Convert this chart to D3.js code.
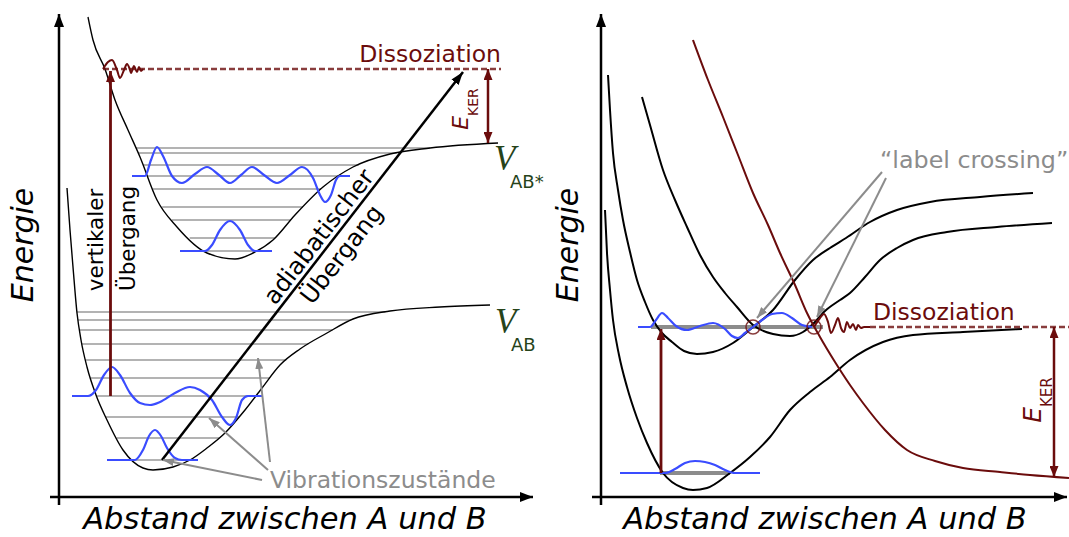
<!DOCTYPE html>
<html>
<head>
<meta charset="utf-8">
<script src="https://cdn.jsdelivr.net/npm/d3@7"></script>
<style>
  html, body { margin: 0; padding: 0; background: #fff; }
  svg { display: block; }
</style>
</head>
<body>
<script>
// ---------------------------------------------------------------
// Data — arbitrary units: distance (x) and energy (y)
// ---------------------------------------------------------------

// Left panel: excited-state and ground-state potentials
const vABstar = [[2.9,48.0],[3.4,45.7],[4.6,42.8],[5.6,39.7],[6.9,36.7],[8.1,34.0],[9.8,29.7],[11.8,27.0],[14.8,24.4],[17.6,23.8],[19.4,24.4],[21.4,25.7],[23.6,28.2],[26.4,31.0],[29.4,33.0],[33.1,34.3],[37.1,34.9],[43.9,35.4]];
const vAB = [[0.8,30.9],[1.1,26.7],[1.4,23.0],[1.8,18.4],[2.2,15.7],[2.8,13.0],[3.7,10.2],[4.8,7.7],[6.4,4.7],[8.4,2.9],[9.4,2.7],[11.4,3.0],[13.1,3.7],[14.8,4.9],[16.6,6.4],[18.6,8.7],[20.3,10.9],[22.1,13.2],[24.1,14.8],[26.8,16.4],[29.4,17.8],[33.1,18.6],[38.1,19.0],[43.1,19.2]];

// Vibrational level energies inside each well
const levelsAB = [3.7, 5.9, 8.0, 10.1, 11.9, 13.7, 15.3, 16.7, 17.7, 18.5];
const levelsABstar = [24.6, 25.9, 27.7, 29.0, 30.8, 32.1, 33.2, 34.4, 34.9];

// Wave functions (left panel)
const waveAB0 = [[4.8,3.7],[7.6,3.7],[8.4,4.7],[9.0,6.1],[9.6,6.7],[10.2,6.1],[10.8,4.9],[11.6,3.9],[12.3,3.7],[13.9,3.7]];
const waveAB3 = [[1.3,10.1],[2.9,10.1],[3.7,10.7],[4.5,12.2],[5.3,13.0],[6.1,12.2],[7.1,10.4],[8.1,9.4],[9.1,9.2],[10.1,9.5],[11.6,10.4],[13.1,11.0],[14.1,10.7],[15.3,9.7],[16.3,8.0],[17.1,7.2],[17.7,7.9],[18.3,9.7],[18.9,10.1],[20.3,10.1]];
const waveStar0 = [[12.1,24.6],[14.6,24.6],[15.3,25.2],[16.1,26.7],[17.1,27.6],[18.1,26.7],[18.9,25.2],[19.6,24.6],[21.3,24.6]];
const waveStar5 = [[7.3,32.1],[8.6,32.1],[9.2,33.7],[9.8,35.0],[10.4,34.1],[11.3,32.1],[12.3,31.4],[13.6,32.3],[14.8,33.0],[16.0,32.2],[17.1,31.4],[18.2,32.2],[19.3,33.0],[20.5,32.2],[21.8,31.4],[23.1,32.2],[24.3,33.0],[25.4,31.9],[26.1,30.2],[26.6,29.5],[27.2,30.2],[27.7,31.7],[28.1,32.1],[29.1,32.1]];

// Dissociation (left panel)
const dissLeft = 42.8;
const dissLeftSpan = [4.4, 44.2];
const dissWaveLeft = [[4.4,42.8],[4.9,43.5],[5.3,43.7],[5.8,42.7],[6.1,41.9],[6.5,42.7],[6.8,43.3],[7.1,42.7],[7.2,42.4],[7.5,43.1],[7.8,42.5],[8.0,43.0],[8.2,42.6],[8.4,42.8]];
const eKerLeft = { x: 42.9, from: 35.4, to: 42.8 };
const verticalLeft = { x: 5.15, from: 10.1, to: 42.6 };
const adiabatic = [[10.3,3.7],[40.4,42.5]];
const vibArrows = [[[20.3,1.7],[10.4,3.7]], [[20.9,2.7],[15.0,7.9]], [[21.1,3.5],[19.9,13.9]]];

// Right panel: three bound potentials and one repulsive curve
const curveA = [[0.4,28.7],[0.6,24.4],[0.9,20.7],[1.2,17.7],[1.8,14.2],[2.6,11.0],[3.6,7.9],[4.6,5.4],[6.2,2.4],[8.2,0.9],[9.2,0.7],[10.6,0.9],[12.9,2.4],[14.9,4.0],[16.9,6.0],[18.9,8.7],[20.9,10.5],[22.9,12.0],[24.9,13.7],[28.2,15.5],[31.2,16.2],[36.2,16.5],[42.1,16.8]];
const curveB = [[0.7,42.2],[0.9,38.7],[1.2,34.4],[1.7,30.7],[2.2,27.7],[2.9,24.5],[3.6,21.7],[4.4,19.5],[5.2,17.7],[6.1,16.4],[7.1,15.5],[8.3,14.6],[9.6,14.3],[11.2,14.5],[13.2,15.4],[15.2,17.0],[17.2,18.7],[19.4,21.7],[21.2,23.7],[22.9,24.9],[24.5,25.9],[26.9,27.5],[29.6,28.7],[32.9,29.5],[37.9,30.0],[43.2,30.4]];
const curveC = [[4.1,40.0],[4.9,37.2],[6.2,32.7],[7.4,29.7],[8.6,27.0],[9.9,24.2],[11.2,22.0],[12.4,20.4],[13.6,19.0],[15.2,17.2],[17.2,16.3],[18.9,16.1],[20.2,16.5],[21.2,17.3],[22.4,18.6],[23.9,19.7],[24.9,20.4],[26.4,22.0],[27.9,23.7],[29.6,24.9],[31.2,25.7],[34.6,26.5],[39.6,27.0],[45.1,27.4]];
const curveRep = [[9.2,45.7],[10.7,41.7],[12.2,38.0],[13.7,34.2],[15.2,30.4],[16.7,27.2],[17.9,24.4],[19.4,21.2],[20.6,18.4],[21.9,16.0],[23.4,13.5],[24.9,11.2],[26.2,9.4],[28.4,6.7],[30.6,4.7],[33.4,3.6],[36.2,2.9],[39.9,2.5],[42.9,2.2],[46.8,1.9]];

const rightLevels = [{ e: 2.4, x0: 5.9, x1: 12.9 }, { e: 17.0, x0: 5.0, x1: 22.2 }];
const waveA0 = [[1.9,2.4],[6.4,2.4],[7.4,2.8],[8.4,3.4],[9.4,3.6],[10.4,3.5],[11.4,3.2],[12.4,2.7],[13.4,2.4],[15.9,2.4]];
const waveUpper = [[3.7,17.0],[4.9,17.0],[5.5,17.7],[6.1,18.4],[6.7,17.9],[7.5,17.1],[8.6,16.7],[9.9,17.1],[11.2,17.4],[12.4,16.8],[13.1,16.1],[13.7,15.9],[14.4,16.4],[15.2,17.0],[16.1,17.7],[17.1,18.3],[18.1,18.4],[19.1,17.9],[20.1,17.2],[21.1,17.0]];
const dissRight = 17.0;
const dissRightSpan = [26.9, 46.8];
const dissWaveRight = [[21.3,17.0],[21.9,17.9],[22.3,18.3],[22.7,17.5],[23.0,16.4],[23.4,17.2],[23.7,17.9],[24.0,16.9],[24.3,16.5],[24.6,17.5],[24.9,16.9],[25.2,17.3],[25.5,16.7],[25.7,17.2],[26.0,16.9],[26.3,17.0],[26.9,17.0]];
const crossings = [[15.2,17.0],[21.3,17.0]];
const crossingArrows = [[[28.1,32.5],[15.6,17.9]], [[28.5,31.9],[21.6,18.0]]];
const verticalRight = { x: 6.0, from: 2.4, to: 16.8 };
const eKerRight = { x: 45.3, from: 17.0, to: 2.0 };

// ---------------------------------------------------------------
// Layout and styles
// ---------------------------------------------------------------
const W = 1069, H = 537;
const SANS = "'DejaVu Sans', Verdana, sans-serif";
const MAROON = "#6b0c0c";
const BLUE = "#3a4cff";
const GREY = "#8c8c8c";
const GREEN = "#26431a";

const y = d3.scaleLinear().domain([0, 48.3]).range([497, 14]);
const xL = d3.scaleLinear().domain([0, 47.4]).range([59, 533]);
const xR = d3.scaleLinear().domain([0, 46.6]).range([601, 1067]);

const svg = d3.select("body").append("svg").attr("width", W).attr("height", H);
const defs = svg.append("defs");

function addMarker(id, color, len, wid) {
  defs.append("marker")
    .attr("id", id)
    .attr("viewBox", `0 0 ${len} ${wid}`)
    .attr("refX", len).attr("refY", wid / 2)
    .attr("markerWidth", len).attr("markerHeight", wid)
    .attr("markerUnits", "userSpaceOnUse")
    .attr("orient", "auto-start-reverse")
    .append("path")
    .attr("d", `M0,0L${len},${wid / 2}L0,${wid}Z`)
    .attr("fill", color);
}
addMarker("ah-axis", "#000", 13, 10);
addMarker("ah-black", "#000", 13, 9);
addMarker("ah-red", MAROON, 11, 9);
addMarker("ah-grey", GREY, 11, 8);

function lineGen(xs) {
  return d3.line().x(d => xs(d[0])).y(d => y(d[1])).curve(d3.curveMonotoneX);
}

// Horizontal extent of an energy level: first and last crossing of the potential
function levelSpan(curve, e) {
  const xs = [];
  for (let i = 0; i < curve.length - 1; i++) {
    const [x1, y1] = curve[i], [x2, y2] = curve[i + 1];
    if ((y1 - e) * (y2 - e) <= 0 && y1 !== y2) {
      xs.push(x1 + (e - y1) / (y2 - y1) * (x2 - x1));
    }
  }
  return [d3.min(xs), d3.max(xs)];
}

function arrow(g, xs, p0, p1, color, width, markerEnd, markerStart) {
  const l = g.append("line")
    .attr("x1", xs(p0[0])).attr("y1", y(p0[1]))
    .attr("x2", xs(p1[0])).attr("y2", y(p1[1]))
    .attr("stroke", color).attr("stroke-width", width);
  if (markerEnd) l.attr("marker-end", `url(#${markerEnd})`);
  if (markerStart) l.attr("marker-start", `url(#${markerStart})`);
  return l;
}

// ---------------------------------------------------------------
// Left panel
// ---------------------------------------------------------------
const gL = svg.append("g");
const lineL = lineGen(xL);

// vibrational levels
[[vAB, levelsAB], [vABstar, levelsABstar]].forEach(([curve, levels]) => {
  gL.selectAll(null).data(levels).enter().append("line")
    .attr("x1", e => xL(levelSpan(curve, e)[0]))
    .attr("x2", e => xL(levelSpan(curve, e)[1]))
    .attr("y1", e => y(e)).attr("y2", e => y(e))
    .attr("stroke", "#9a9a9a").attr("stroke-width", 1.3);
});

// potentials
gL.selectAll(null).data([vABstar, vAB]).enter().append("path")
  .attr("d", lineL).attr("fill", "none")
  .attr("stroke", "#000").attr("stroke-width", 1.4);

// wave functions
gL.selectAll(null).data([waveAB0, waveAB3, waveStar0, waveStar5]).enter().append("path")
  .attr("d", lineL).attr("fill", "none")
  .attr("stroke", BLUE).attr("stroke-width", 2.2);

// dissociation limit
gL.append("line")
  .attr("x1", xL(dissLeftSpan[0])).attr("x2", xL(dissLeftSpan[1]))
  .attr("y1", y(dissLeft)).attr("y2", y(dissLeft))
  .attr("stroke", MAROON).attr("stroke-opacity", 0.8)
  .attr("stroke-width", 2.5).attr("stroke-dasharray", "6,3");
gL.append("path").attr("d", lineL(dissWaveLeft)).attr("fill", "none")
  .attr("stroke", MAROON).attr("stroke-width", 2);

// kinetic energy release
arrow(gL, xL, [eKerLeft.x, eKerLeft.from], [eKerLeft.x, eKerLeft.to], MAROON, 2.5, "ah-red", "ah-red");

// vertical transition
arrow(gL, xL, [verticalLeft.x, verticalLeft.from], [verticalLeft.x, verticalLeft.to], MAROON, 2.8, "ah-red");

// adiabatic transition
arrow(gL, xL, adiabatic[0], adiabatic[1], "#000", 2.5, "ah-black");

// arrows to the vibrational states
vibArrows.forEach(([a, b]) => arrow(gL, xL, a, b, GREY, 2, "ah-grey"));

// labels
gL.append("text")
  .attr("x", xL(44.2)).attr("y", y(43.5))
  .attr("text-anchor", "end")
  .attr("font-family", SANS).attr("font-size", 23.5)
  .attr("fill", MAROON).text("Dissoziation");

gL.append("text")
  .attr("x", xL(21.1)).attr("y", y(0.9))
  .attr("font-family", SANS).attr("font-size", 23.5)
  .attr("fill", GREY).text("Vibrationszustände");

function eKerLabel(g, px, py, size, subSize) {
  const t = g.append("text")
    .attr("transform", `translate(${px},${py}) rotate(-90)`)
    .attr("text-anchor", "middle")
    .attr("font-family", SANS).attr("fill", MAROON);
  t.append("tspan").attr("font-size", size).attr("font-style", "italic").text("E");
  t.append("tspan").attr("font-size", subSize).attr("dy", size * 0.45).text("KER");
}
eKerLabel(gL, xL(40.9), y(38.8), 22, 14);

// potential names: script-like V with a subscript
function potLabel(g, px, py, sub) {
  g.append("text")
    .attr("x", px).attr("y", py)
    .attr("font-family", "'Liberation Serif', 'DejaVu Serif', serif")
    .attr("font-style", "italic").attr("font-size", 35)
    .attr("fill", GREEN).text("V");
  g.append("text")
    .attr("x", px + 16).attr("y", py + 18)
    .attr("font-family", SANS).attr("font-size", 18)
    .attr("fill", GREEN).text(sub);
}
potLabel(gL, xL(43.5), y(32.7), "AB*");
potLabel(gL, xL(43.6), y(16.4), "AB");

// rotated transition labels
gL.append("text")
  .attr("transform", `translate(${xL(4.4)},${y(25.7)}) rotate(-90)`)
  .attr("text-anchor", "middle")
  .attr("font-family", SANS).attr("font-size", 21.5).text("vertikaler");
gL.append("text")
  .attr("transform", `translate(${xL(7.6)},${y(25.85)}) rotate(-90)`)
  .attr("text-anchor", "middle")
  .attr("font-family", SANS).attr("font-size", 21.5).text("Übergang");

{
  const p0 = [xL(adiabatic[0][0]), y(adiabatic[0][1])];
  const p1 = [xL(adiabatic[1][0]), y(adiabatic[1][1])];
  const ang = Math.atan2(p1[1] - p0[1], p1[0] - p0[0]) * 180 / Math.PI;
  const t = 0.555;
  const cx = p0[0] + (p1[0] - p0[0]) * t, cy = p0[1] + (p1[1] - p0[1]) * t;
  gL.append("text")
    .attr("transform", `translate(${cx},${cy}) rotate(${ang})`)
    .attr("text-anchor", "middle").attr("dy", -5)
    .attr("font-family", SANS).attr("font-size", 24).text("adiabatischer");
  gL.append("text")
    .attr("transform", `translate(${cx},${cy}) rotate(${ang})`)
    .attr("text-anchor", "middle").attr("dy", 24)
    .attr("font-family", SANS).attr("font-size", 24).text("Übergang");
}

// ---------------------------------------------------------------
// Right panel
// ---------------------------------------------------------------
const gR = svg.append("g");
const lineR = lineGen(xR);

// thick grey levels
gR.selectAll(null).data(rightLevels).enter().append("line")
  .attr("x1", d => xR(d.x0)).attr("x2", d => xR(d.x1))
  .attr("y1", d => y(d.e)).attr("y2", d => y(d.e))
  .attr("stroke", GREY).attr("stroke-width", 4);

// bound potentials
gR.selectAll(null).data([curveA, curveB, curveC]).enter().append("path")
  .attr("d", lineR).attr("fill", "none")
  .attr("stroke", "#000").attr("stroke-width", 2);

// repulsive potential
gR.append("path").attr("d", lineR(curveRep)).attr("fill", "none")
  .attr("stroke", MAROON).attr("stroke-width", 2);

// wave functions
gR.selectAll(null).data([waveA0, waveUpper]).enter().append("path")
  .attr("d", lineR).attr("fill", "none")
  .attr("stroke", BLUE).attr("stroke-width", 2.2);

// dissociation
gR.append("line")
  .attr("x1", xR(dissRightSpan[0])).attr("x2", xR(dissRightSpan[1]))
  .attr("y1", y(dissRight)).attr("y2", y(dissRight))
  .attr("stroke", MAROON).attr("stroke-opacity", 0.8)
  .attr("stroke-width", 2.5).attr("stroke-dasharray", "6,3");
gR.append("path").attr("d", lineR(dissWaveRight)).attr("fill", "none")
  .attr("stroke", MAROON).attr("stroke-width", 2);

// crossing markers
gR.selectAll(null).data(crossings).enter().append("circle")
  .attr("cx", d => xR(d[0])).attr("cy", d => y(d[1])).attr("r", 7)
  .attr("fill", "none").attr("stroke", MAROON).attr("stroke-opacity", 0.8).attr("stroke-width", 1.6);

crossingArrows.forEach(([a, b]) => arrow(gR, xR, a, b, GREY, 2, "ah-grey"));

arrow(gR, xR, [verticalRight.x, verticalRight.from], [verticalRight.x, verticalRight.to], MAROON, 2.8, "ah-red");
arrow(gR, xR, [eKerRight.x, eKerRight.from], [eKerRight.x, eKerRight.to], MAROON, 2.5, "ah-red", "ah-red");

gR.append("text")
  .attr("x", xR(27.2)).attr("y", y(17.7))
  .attr("font-family", SANS).attr("font-size", 23.5)
  .attr("fill", MAROON).text("Dissoziation");

gR.append("text")
  .attr("x", xR(27.9)).attr("y", y(32.9))
  .attr("font-family", SANS).attr("font-size", 23.8)
  .attr("fill", GREY).text("\u201Clabel crossing\u201D");

eKerLabel(gR, xR(44.0), y(9.7), 25, 15);

// ---------------------------------------------------------------
// Axes (arrows without ticks) and titles
// ---------------------------------------------------------------
[[xL, 59, 533], [xR, 601, 1067]].forEach(([xs, x0, x1]) => {
  svg.append("line")
    .attr("x1", x0).attr("y1", y(-0.8)).attr("x2", x0).attr("y2", y(48.3))
    .attr("stroke", "#000").attr("stroke-width", 2.5).attr("marker-end", "url(#ah-axis)");
  svg.append("line")
    .attr("x1", x0 - 9).attr("y1", y(0)).attr("x2", x1).attr("y2", y(0))
    .attr("stroke", "#000").attr("stroke-width", 2.5).attr("marker-end", "url(#ah-axis)");
});

[[33, 245], [578, 245]].forEach(([px, py]) => {
  svg.append("text")
    .attr("transform", `translate(${px},${py}) rotate(-90)`)
    .attr("text-anchor", "middle")
    .attr("font-family", SANS).attr("font-style", "italic").attr("font-size", 30)
    .text("Energie");
});
[[285, 529], [825, 529]].forEach(([px, py]) => {
  svg.append("text")
    .attr("x", px).attr("y", py)
    .attr("text-anchor", "middle")
    .attr("font-family", SANS).attr("font-style", "italic").attr("font-size", 30.5)
    .text("Abstand zwischen A und B");
});
</script>
</body>
</html>
